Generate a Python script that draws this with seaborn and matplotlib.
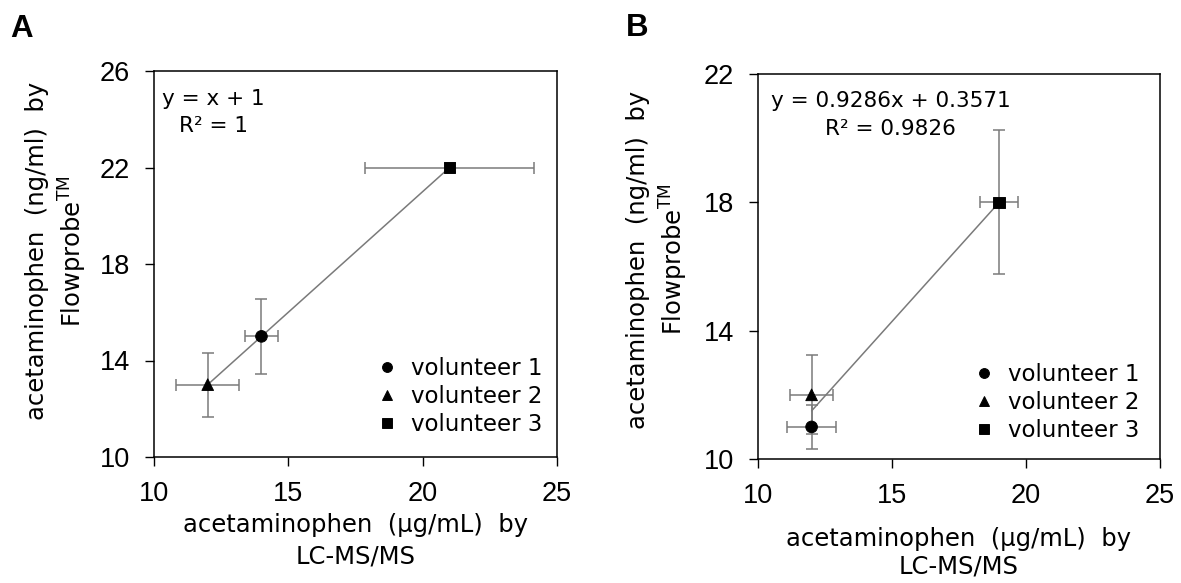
import numpy as np
import pandas as pd
import matplotlib
matplotlib.use("Agg")
import matplotlib.pyplot as plt
import seaborn as sns

# ---------------- data ----------------
volunteers = ["volunteer 1", "volunteer 2", "volunteer 3"]

# Panel A
lcms_A = [14, 12, 21]
fp_A = [15, 13, 22]
lcms_err_A = [0.63, 1.17, 3.15]
fp_err_A = [1.55, 1.33, 0.2]
slope_A, intercept_A = 1.0, 1.0
eq_A = "y = x + 1\nR² = 1"

# Panel B
lcms_B = [12, 12, 19]
fp_B = [11, 12, 18]
lcms_err_B = [0.92, 0.80, 0.70]
fp_err_B = [0.69, 1.23, 2.24]
slope_B, intercept_B = 0.9286, 0.3571
eq_B = "y = 0.9286x + 0.3571\nR² = 0.9826"

x_ticks = [10, 15, 20, 25]
y_ticks_A = [10, 14, 18, 22, 26]
y_ticks_B = [10, 14, 18, 22]

x_label = "acetaminophen  (µg/mL)  by\nLC-MS/MS"
y_label = "acetaminophen  (ng/ml)  by\nFlowprobe$^{\\mathregular{TM}}$"

# ---------------- style ----------------
sns.set_style("ticks")
plt.rcParams["font.family"] = ["DejaVu Sans"]
for key in ["text.color", "axes.labelcolor", "xtick.color", "ytick.color",
            "axes.edgecolor"]:
    plt.rcParams[key] = "black"
TICKFONT = "Liberation Sans"

markers = {"volunteer 1": "o", "volunteer 2": "^", "volunteer 3": "s"}
GREY = "#7a7a7a"

fig = plt.figure(figsize=(11.81, 5.83), dpi=100)
W, H = 1181, 583


def px_axes(left, top, right, bottom):
    return fig.add_axes([left / W, 1 - bottom / H, (right - left) / W, (bottom - top) / H])


axA = px_axes(154, 71, 557, 457)
axB = px_axes(758, 74, 1160, 459)


def draw_panel(ax, xs, ys, xerr, yerr, slope, intercept, eq, yticks, eq_pos,
               leg_anchor, ylab_coords, xlabelpad, xlinespacing):
    df = pd.DataFrame({"lcms": xs, "fp": ys, "volunteer": volunteers})
    xfit = np.array([min(xs), max(xs)])
    fit_df = pd.DataFrame({"x": xfit, "y": slope * xfit + intercept})
    sns.lineplot(data=fit_df, x="x", y="y", ax=ax, color=GREY, lw=1.1, zorder=1)
    ax.errorbar(df["lcms"], df["fp"], xerr=xerr, yerr=yerr, fmt="none",
                ecolor=GREY, elinewidth=1.1, capsize=4.5, capthick=1.1, zorder=2)
    sns.scatterplot(data=df, x="lcms", y="fp", style="volunteer", markers=markers,
                    color="black", edgecolor="black", s=70, ax=ax, zorder=3)
    handles, labels = ax.get_legend_handles_labels()
    hl = [(h, l) for h, l in zip(handles, labels) if l in volunteers]
    ax.legend([h for h, _ in hl], [l for _, l in hl], loc="lower right",
              bbox_to_anchor=leg_anchor, frameon=False, fontsize=16.5,
              handlelength=1.0, handletextpad=0.55, labelspacing=0.22,
              borderaxespad=0, borderpad=0, markerscale=0.85)

    ax.set_xlim(10, 25)
    ax.set_ylim(yticks[0], yticks[-1])
    ax.set_xticks(x_ticks)
    ax.set_yticks(yticks)
    ax.tick_params(axis="both", direction="out", length=6.5, width=1,
                   labelsize=19.5, pad=11, color="black", labelcolor="black")
    for lab in ax.get_xticklabels() + ax.get_yticklabels():
        lab.set_fontfamily(TICKFONT)
    for sp in ax.spines.values():
        sp.set_visible(True)
        sp.set_color("black")
        sp.set_linewidth(1.1)

    ax.set_xlabel(x_label, fontsize=17.5, labelpad=xlabelpad,
                  linespacing=xlinespacing, color="black")
    ax.set_ylabel(y_label, fontsize=17.5, linespacing=1.3, color="black")
    ax.yaxis.set_label_coords(*ylab_coords)

    ax.text(eq_pos[0], eq_pos[1], eq, transform=ax.transAxes, ha="center",
            va="top", fontsize=15.5, multialignment="center", linespacing=1.45,
            color="black")


draw_panel(axA, lcms_A, fp_A, lcms_err_A, fp_err_A, slope_A, intercept_A, eq_A,
           y_ticks_A, (0.148, 0.953), (0.965, 0.055), (-0.162, 0.534), 4, 1.38)
draw_panel(axB, lcms_B, fp_B, lcms_err_B, fp_err_B, slope_B, intercept_B, eq_B,
           y_ticks_B, (0.33, 0.955), (0.95, 0.045), (-0.17, 0.518), 13, 1.15)

fig.text(10 / W, 1 - 37 / H, "A", fontsize=22.5, fontweight="bold",
         family=TICKFONT, ha="left", va="baseline", color="black")
fig.text(626 / W, 1 - 36 / H, "B", fontsize=22.5, fontweight="bold",
         family=TICKFONT, ha="left", va="baseline", color="black")

fig.savefig("out.png", dpi=100, facecolor="white")
